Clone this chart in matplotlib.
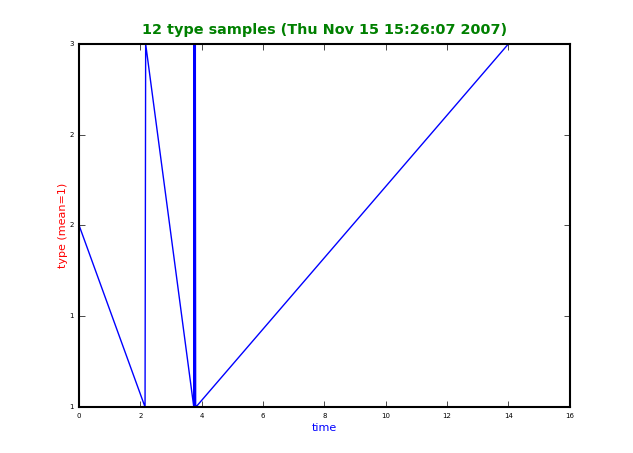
import matplotlib
matplotlib.use('Agg')
import matplotlib.pyplot as plt
from matplotlib.ticker import FormatStrFormatter, MultipleLocator

# --- datos ---
tiempos = [0.0, 2.15, 2.17, 3.74, 3.75, 3.76, 3.77, 3.78, 3.79, 3.80, 3.81, 14.0]
tipos = [2, 1, 3, 1, 3, 1, 3, 1, 3, 1, 1, 3]
titulo = '12 type samples (Thu Nov 15 15:26:07 2007)'

plt.style.use('classic')
fig = plt.figure(figsize=(6.33, 4.53), dpi=100)
fig.patch.set_facecolor('white')
ax = fig.add_axes([0.125, 0.1015, 0.775, 0.8015])

ax.plot(tiempos, tipos, color='blue', linewidth=1.0)

ax.set_xlim(0, 16)
ax.set_ylim(1, 3)
ax.xaxis.set_major_locator(MultipleLocator(2))
ax.yaxis.set_major_locator(MultipleLocator(0.5))
ax.yaxis.set_major_formatter(FormatStrFormatter('%d'))
ax.tick_params(labelsize=5, length=4, direction='in', top=True, right=True)
for s in ax.spines.values():
    s.set_linewidth(1.5)

ax.set_title(titulo, color='green', fontweight='bold', fontsize=10.4, pad=7)
ax.set_xlabel('time', color='blue', fontsize=8, labelpad=3)
ax.set_ylabel('type (mean=1)', color='red', fontsize=8, labelpad=1)

fig.savefig('out.png', dpi=100, facecolor='white')
